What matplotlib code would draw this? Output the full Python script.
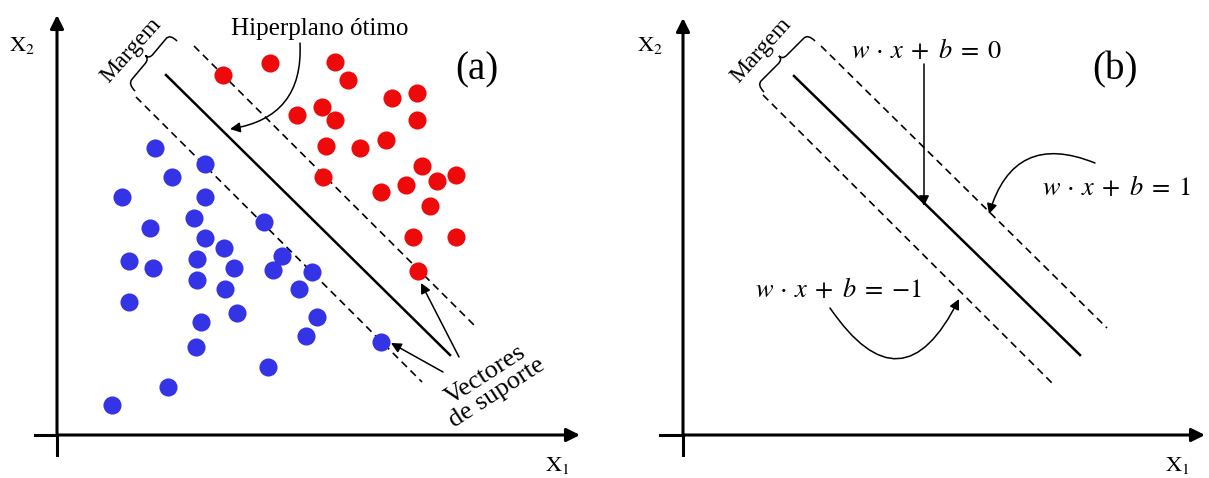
import numpy as np
import matplotlib.pyplot as plt
from matplotlib.path import Path
from matplotlib.patches import PathPatch

plt.rcParams['font.family'] = ['Liberation Serif', 'DejaVu Serif']
plt.rcParams['mathtext.fontset'] = 'stix'

# panel (a) sample points, image pixel coordinates
red_x = [223, 270, 335, 348, 297, 322, 335, 392, 417, 417, 326, 360, 386,
         323, 406, 422, 437, 456, 381, 430, 413, 456, 418]
red_y = [75, 63, 62, 80, 115, 107, 120, 98, 93, 120, 146, 148, 140,
         177, 185, 166, 181, 175, 192, 206, 237, 237, 271]
blue_x = [155, 205, 172, 205, 122, 194, 150, 205, 264, 224, 282, 129, 153,
          197, 234, 273, 312, 197, 225, 299, 129, 237, 317, 201, 306, 196,
          381, 268, 168, 112]
blue_y = [148, 164, 177, 197, 197, 218, 228, 238, 222, 248, 256, 261, 268,
          259, 268, 270, 272, 280, 289, 289, 302, 313, 317, 322, 336, 347,
          342, 367, 387, 405]

# separating lines (start, end)
lines_a = {'solid': ((166, 75), (450, 355)),
           'upper': ((194, 46), (477, 328)),
           'lower': ((136, 97), (422, 382))}
lines_b = {'solid': ((794, 76), (1080, 355)),
           'upper': ((821, 46), (1107, 328)),
           'lower': ((763, 95), (1052, 383))}

fig = plt.figure(figsize=(12.09, 4.78), dpi=100)
ax = fig.add_axes([0, 0, 1, 1])
ax.set_xlim(0, 1209)
ax.set_ylim(478, 0)
ax.axis('off')

math_kw = dict(ha='center', va='center', fontsize=19)


def eq(rhs):
    return r'$w\,\cdot\,x\;+\;b\;=\;' + rhs + '$'


def draw_axes(x0, y0, xend, ytop, xleft, ybot):
    ax.plot([x0, x0], [y0 + 2, ybot], color='k', lw=2.2)
    ax.plot([xleft, x0], [y0, y0], color='k', lw=2.2)
    for tip in [(x0, ytop), (xend, y0)]:
        ax.annotate('', xy=tip, xytext=(x0, y0),
                    arrowprops=dict(arrowstyle='-|>', lw=2.2, color='k',
                                    mutation_scale=20, shrinkA=0, shrinkB=0))


def draw_lines(lines):
    (x1, y1), (x2, y2) = lines['solid']
    ax.plot([x1, x2], [y1, y2], color='k', lw=1.8)
    for key in ('upper', 'lower'):
        (x1, y1), (x2, y2) = lines[key]
        ax.plot([x1, x2], [y1, y2], color='k', lw=1.2, dashes=(4.5, 3))


def brace(c0, c1, hook=10, tip=5, r=6):
    # curly brace between the back corners c0 (lower) and c1 (upper)
    c0 = np.array(c0, float)
    c1 = np.array(c1, float)
    d = np.array([1.0, 1.0]) / np.sqrt(2)
    u = (c1 - c0) / np.linalg.norm(c1 - c0)
    mid = (c0 + c1) / 2
    verts = [c0 + d * hook, c0, c0 + u * r,
             mid - u * r, mid, mid - d * tip,
             mid, mid + u * r,
             c1 - u * r, c1, c1 + d * hook]
    codes = [Path.MOVETO, Path.CURVE3, Path.CURVE3,
             Path.LINETO, Path.CURVE3, Path.CURVE3,
             Path.CURVE3, Path.CURVE3,
             Path.LINETO, Path.CURVE3, Path.CURVE3]
    ax.add_patch(PathPatch(Path(verts, codes), fill=False, lw=1.1,
                           color='k'))


def arrow(start, end, rad=0.0, lw=1.1):
    ax.annotate('', xy=end, xytext=start,
                arrowprops=dict(arrowstyle='-|>', lw=lw, color='k',
                                mutation_scale=15, shrinkA=0, shrinkB=0,
                                connectionstyle=f'arc3,rad={rad}'))


# ---- panel (a)
draw_axes(57, 435, 580, 15, 35, 455)
draw_lines(lines_a)
ax.scatter(red_x, red_y, s=170, color='#ee0a0a', zorder=3, linewidths=0)
ax.scatter(blue_x, blue_y, s=170, color='#3434e6', zorder=3, linewidths=0)
brace((128, 84), (170, 34))
ax.text(131, 50, 'Margem', rotation=48, ha='center', va='center', fontsize=17)
ax.text(22, 45, r'$\mathrm{X}_2$', ha='center', va='center', fontsize=16)
ax.text(557, 465, r'$\mathrm{X}_1$', ha='center', va='center', fontsize=16)
ax.text(477, 70, '(a)', ha='center', va='center', fontsize=28)
ax.text(320, 29, 'Hiperplano ótimo', ha='center', va='center', fontsize=18)
arrow((300, 43), (230, 129), rad=-0.45)
arrow((459, 357), (421, 283))
arrow((443, 372), (391, 343))
ax.text(491, 384, 'Vectores\nde suporte', rotation=33, ha='center',
        va='center', fontsize=19, linespacing=0.95)

# ---- panel (b)
draw_axes(683, 435, 1205, 18, 660, 455)
draw_lines(lines_b)
brace((757, 85), (808, 34))
ax.text(761, 50, 'Margem', rotation=48, ha='center', va='center', fontsize=17)
ax.text(650, 45, r'$\mathrm{X}_2$', ha='center', va='center', fontsize=16)
ax.text(1177, 465, r'$\mathrm{X}_1$', ha='center', va='center', fontsize=16)
ax.text(1115, 70, '(b)', ha='center', va='center', fontsize=28)
ax.text(927, 50, eq('0'), **math_kw)
arrow((924, 64), (924, 206))
ax.text(1116, 187, eq('1'), **math_kw)
arrow((1095, 163), (989, 214), rad=0.55)
ax.text(838, 290, eq('{-1}'), **math_kw)
arrow((830, 308), (959, 299), rad=0.85)

fig.savefig('out.png', dpi=100)
